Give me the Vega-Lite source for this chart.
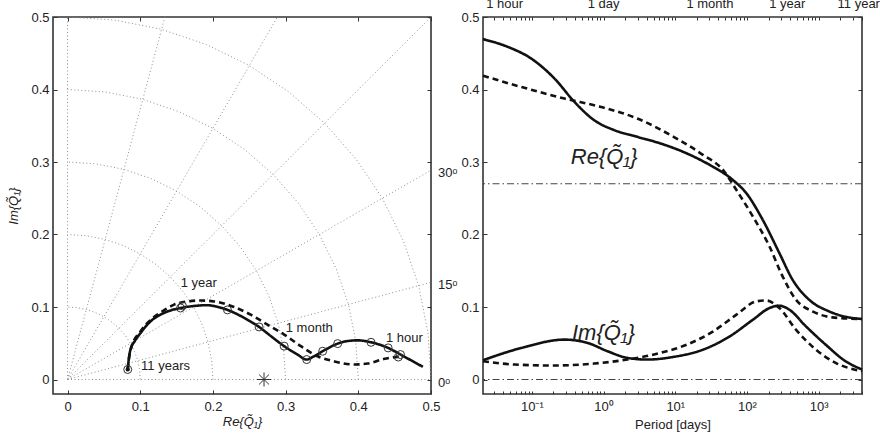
{
  "$schema": "https://vega.github.io/schema/vega-lite/v6.json",
  "background": "white",
  "padding": {"left": 7, "top": -4, "right": 0, "bottom": 0},
  "bounds": "flush",
  "spacing": 52,
  "config": {
    "font": "Liberation Sans",
    "view": {"stroke": "#333", "strokeWidth": 1.6},
    "axis": {"domain": false, "grid": false, "labelFont": "Liberation Sans", "labelFontSize": 13, "labelColor": "#222", "tickColor": "#333", "tickSize": -4, "tickWidth": 1, "labelPadding": 8, "titleFont": "Liberation Sans", "titleFontSize": 13, "titleFontWeight": "normal", "titleColor": "#222", "labelFlush": false, "labelOverlap": false},
    "text": {"font": "Liberation Sans", "color": "#222"}
  },
  "datasets": {
    "grid": [
      {"g":"c1","i":0,"x":0.1,"y":0},{"g":"c1","i":1,"x":0.09914,"y":0.01305},{"g":"c1","i":2,"x":0.09659,"y":0.02588},{"g":"c1","i":3,"x":0.09239,"y":0.03827},{"g":"c1","i":4,"x":0.0866,"y":0.05},{"g":"c1","i":5,"x":0.07934,"y":0.06088},{"g":"c1","i":6,"x":0.07071,"y":0.07071},{"g":"c1","i":7,"x":0.06088,"y":0.07934},{"g":"c1","i":8,"x":0.05,"y":0.0866},{"g":"c1","i":9,"x":0.03827,"y":0.09239},{"g":"c1","i":10,"x":0.02588,"y":0.09659},{"g":"c1","i":11,"x":0.01305,"y":0.09914},{"g":"c1","i":12,"x":0,"y":0.1},
      {"g":"c2","i":0,"x":0.2,"y":0},{"g":"c2","i":1,"x":0.19829,"y":0.02611},{"g":"c2","i":2,"x":0.19319,"y":0.05176},{"g":"c2","i":3,"x":0.18478,"y":0.07654},{"g":"c2","i":4,"x":0.17321,"y":0.1},{"g":"c2","i":5,"x":0.15867,"y":0.12175},{"g":"c2","i":6,"x":0.14142,"y":0.14142},{"g":"c2","i":7,"x":0.12175,"y":0.15867},{"g":"c2","i":8,"x":0.1,"y":0.17321},{"g":"c2","i":9,"x":0.07654,"y":0.18478},{"g":"c2","i":10,"x":0.05176,"y":0.19319},{"g":"c2","i":11,"x":0.02611,"y":0.19829},{"g":"c2","i":12,"x":0,"y":0.2},
      {"g":"c3","i":0,"x":0.3,"y":0},{"g":"c3","i":1,"x":0.29743,"y":0.03916},{"g":"c3","i":2,"x":0.28978,"y":0.07765},{"g":"c3","i":3,"x":0.27716,"y":0.1148},{"g":"c3","i":4,"x":0.25981,"y":0.15},{"g":"c3","i":5,"x":0.23801,"y":0.18263},{"g":"c3","i":6,"x":0.21213,"y":0.21213},{"g":"c3","i":7,"x":0.18263,"y":0.23801},{"g":"c3","i":8,"x":0.15,"y":0.25981},{"g":"c3","i":9,"x":0.1148,"y":0.27716},{"g":"c3","i":10,"x":0.07765,"y":0.28978},{"g":"c3","i":11,"x":0.03916,"y":0.29743},{"g":"c3","i":12,"x":0,"y":0.3},
      {"g":"c4","i":0,"x":0.4,"y":0},{"g":"c4","i":1,"x":0.39658,"y":0.05221},{"g":"c4","i":2,"x":0.38637,"y":0.10353},{"g":"c4","i":3,"x":0.36955,"y":0.15307},{"g":"c4","i":4,"x":0.34641,"y":0.2},{"g":"c4","i":5,"x":0.31734,"y":0.2435},{"g":"c4","i":6,"x":0.28284,"y":0.28284},{"g":"c4","i":7,"x":0.2435,"y":0.31734},{"g":"c4","i":8,"x":0.2,"y":0.34641},{"g":"c4","i":9,"x":0.15307,"y":0.36955},{"g":"c4","i":10,"x":0.10353,"y":0.38637},{"g":"c4","i":11,"x":0.05221,"y":0.39658},{"g":"c4","i":12,"x":0,"y":0.4},
      {"g":"c5","i":0,"x":0.5,"y":0},{"g":"c5","i":1,"x":0.49572,"y":0.06526},{"g":"c5","i":2,"x":0.48296,"y":0.12941},{"g":"c5","i":3,"x":0.46194,"y":0.19134},{"g":"c5","i":4,"x":0.43301,"y":0.25},{"g":"c5","i":5,"x":0.39668,"y":0.30438},{"g":"c5","i":6,"x":0.35355,"y":0.35355},{"g":"c5","i":7,"x":0.30438,"y":0.39668},{"g":"c5","i":8,"x":0.25,"y":0.43301},{"g":"c5","i":9,"x":0.19134,"y":0.46194},{"g":"c5","i":10,"x":0.12941,"y":0.48296},{"g":"c5","i":11,"x":0.06526,"y":0.49572},{"g":"c5","i":12,"x":0,"y":0.5},
      {"g":"r0","i":0,"x":0,"y":0},{"g":"r0","i":1,"x":0.75,"y":0},
      {"g":"r15","i":0,"x":0,"y":0},{"g":"r15","i":1,"x":0.72444,"y":0.19411},
      {"g":"r30","i":0,"x":0,"y":0},{"g":"r30","i":1,"x":0.64952,"y":0.375},
      {"g":"r45","i":0,"x":0,"y":0},{"g":"r45","i":1,"x":0.53033,"y":0.53033},
      {"g":"r60","i":0,"x":0,"y":0},{"g":"r60","i":1,"x":0.375,"y":0.64952},
      {"g":"r75","i":0,"x":0,"y":0},{"g":"r75","i":1,"x":0.19411,"y":0.72444},
      {"g":"r90","i":0,"x":0,"y":0},{"g":"r90","i":1,"x":0,"y":0.75}
    ],
    "lc": [
      {"s":"solid","i":0,"x":0.0828,"y":0.0138},{"s":"solid","i":1,"x":0.0845,"y":0.03},{"s":"solid","i":2,"x":0.0865,"y":0.041},{"s":"solid","i":3,"x":0.0925,"y":0.053},{"s":"solid","i":4,"x":0.1003,"y":0.064},{"s":"solid","i":5,"x":0.114,"y":0.08},{"s":"solid","i":6,"x":0.1324,"y":0.0917},{"s":"solid","i":7,"x":0.1555,"y":0.0986},{"s":"solid","i":8,"x":0.175,"y":0.1015},{"s":"solid","i":9,"x":0.192,"y":0.1025},{"s":"solid","i":10,"x":0.207,"y":0.1},{"s":"solid","i":11,"x":0.22,"y":0.096},{"s":"solid","i":12,"x":0.243,"y":0.085},{"s":"solid","i":13,"x":0.2635,"y":0.0725},{"s":"solid","i":14,"x":0.28,"y":0.0596},{"s":"solid","i":15,"x":0.298,"y":0.046},{"s":"solid","i":16,"x":0.3164,"y":0.0344},{"s":"solid","i":17,"x":0.329,"y":0.0275},{"s":"solid","i":18,"x":0.339,"y":0.032},{"s":"solid","i":19,"x":0.351,"y":0.039},{"s":"solid","i":20,"x":0.3716,"y":0.0495},{"s":"solid","i":21,"x":0.385,"y":0.053},{"s":"solid","i":22,"x":0.399,"y":0.054},{"s":"solid","i":23,"x":0.4175,"y":0.0513},{"s":"solid","i":24,"x":0.441,"y":0.0436},{"s":"solid","i":25,"x":0.458,"y":0.0344},{"s":"solid","i":26,"x":0.4888,"y":0.0175},
      {"s":"dashed","i":0,"x":0.0828,"y":0.0138},{"s":"dashed","i":1,"x":0.0848,"y":0.031},{"s":"dashed","i":2,"x":0.088,"y":0.045},{"s":"dashed","i":3,"x":0.1,"y":0.066},{"s":"dashed","i":4,"x":0.115,"y":0.083},{"s":"dashed","i":5,"x":0.132,"y":0.095},{"s":"dashed","i":6,"x":0.146,"y":0.103},{"s":"dashed","i":7,"x":0.1647,"y":0.1077},{"s":"dashed","i":8,"x":0.183,"y":0.109},{"s":"dashed","i":9,"x":0.2014,"y":0.1077},{"s":"dashed","i":10,"x":0.229,"y":0.1},{"s":"dashed","i":11,"x":0.252,"y":0.0894},{"s":"dashed","i":12,"x":0.275,"y":0.0757},{"s":"dashed","i":13,"x":0.298,"y":0.062},{"s":"dashed","i":14,"x":0.321,"y":0.046},{"s":"dashed","i":15,"x":0.344,"y":0.032},{"s":"dashed","i":16,"x":0.367,"y":0.025},{"s":"dashed","i":17,"x":0.3945,"y":0.0206},{"s":"dashed","i":18,"x":0.413,"y":0.022},{"s":"dashed","i":19,"x":0.436,"y":0.0285},{"s":"dashed","i":20,"x":0.459,"y":0.032}
    ],
    "mk": [
      {"x":0.0828,"y":0.0138},{"x":0.1555,"y":0.0986},{"x":0.158,"y":0.1015},{"x":0.22,"y":0.096},{"x":0.2635,"y":0.0725},{"x":0.298,"y":0.046},{"x":0.329,"y":0.0275},{"x":0.351,"y":0.039},{"x":0.3716,"y":0.0495},{"x":0.4175,"y":0.0513},{"x":0.441,"y":0.0436},{"x":0.458,"y":0.0344},{"x":0.455,"y":0.031}
    ],
    "ll": [
      {"t":"1 year","x":0.1806,"y":0.133},{"t":"1 month","x":0.3325,"y":0.071},{"t":"1 hour","x":0.4635,"y":0.057},{"t":"11 years","x":0.1348,"y":0.0183}
    ],
    "ang": [
      {"t":"0\u1d52","x":0.5,"y":0},{"t":"15\u1d52","x":0.5,"y":0.134},{"t":"30\u1d52","x":0.5,"y":0.2887}
    ],
    "rc": [
      {"k":"Re_s","s":"solid","p":0.020833,"v":0.4695},{"k":"Re_s","s":"solid","p":0.04699,"v":0.4585},{"k":"Re_s","s":"solid","p":0.09863,"v":0.4425},{"k":"Re_s","s":"solid","p":0.2075,"v":0.415},{"k":"Re_s","s":"solid","p":0.3917,"v":0.383},{"k":"Re_s","s":"solid","p":0.7413,"v":0.3576},{"k":"Re_s","s":"solid","p":1.403,"v":0.344},{"k":"Re_s","s":"solid","p":2.951,"v":0.3347},{"k":"Re_s","s":"solid","p":6.209,"v":0.3256},{"k":"Re_s","s":"solid","p":14.52,"v":0.3118},{"k":"Re_s","s":"solid","p":30.48,"v":0.2957},{"k":"Re_s","s":"solid","p":63.97,"v":0.275},{"k":"Re_s","s":"solid","p":98.18,"v":0.2568},{"k":"Re_s","s":"solid","p":166.3,"v":0.22},{"k":"Re_s","s":"solid","p":283.1,"v":0.1743},{"k":"Re_s","s":"solid","p":432.5,"v":0.1376},{"k":"Re_s","s":"solid","p":736.2,"v":0.11},{"k":"Re_s","s":"solid","p":1393,"v":0.094},{"k":"Re_s","s":"solid","p":2924,"v":0.0849},{"k":"Re_s","s":"solid","p":4017.75,"v":0.0835},
      {"k":"Re_d","s":"dashed","p":0.020833,"v":0.419},{"k":"Re_d","s":"dashed","p":0.07178,"v":0.4034},{"k":"Re_d","s":"dashed","p":0.2851,"v":0.3875},{"k":"Re_d","s":"dashed","p":0.9183,"v":0.376},{"k":"Re_d","s":"dashed","p":2.951,"v":0.36},{"k":"Re_d","s":"dashed","p":9.484,"v":0.3347},{"k":"Re_d","s":"dashed","p":24.6,"v":0.3095},{"k":"Re_d","s":"dashed","p":46.56,"v":0.2889},{"k":"Re_d","s":"dashed","p":71.29,"v":0.2613},{"k":"Re_d","s":"dashed","p":121.1,"v":0.2246},{"k":"Re_d","s":"dashed","p":206.1,"v":0.1834},{"k":"Re_d","s":"dashed","p":314.8,"v":0.142},{"k":"Re_d","s":"dashed","p":481.9,"v":0.11},{"k":"Re_d","s":"dashed","p":818.5,"v":0.094},{"k":"Re_d","s":"dashed","p":1549,"v":0.0857},{"k":"Re_d","s":"dashed","p":4017.75,"v":0.0835},
      {"k":"Im_s","s":"solid","p":0.020833,"v":0.0266},{"k":"Im_s","s":"solid","p":0.07178,"v":0.0436},{"k":"Im_s","s":"solid","p":0.2851,"v":0.055},{"k":"Im_s","s":"solid","p":0.6012,"v":0.0504},{"k":"Im_s","s":"solid","p":1.135,"v":0.039},{"k":"Im_s","s":"solid","p":2.148,"v":0.0298},{"k":"Im_s","s":"solid","p":4.064,"v":0.0275},{"k":"Im_s","s":"solid","p":9.484,"v":0.0312},{"k":"Im_s","s":"solid","p":24.6,"v":0.0413},{"k":"Im_s","s":"solid","p":57.68,"v":0.0596},{"k":"Im_s","s":"solid","p":121.1,"v":0.0825},{"k":"Im_s","s":"solid","p":206.1,"v":0.0986},{"k":"Im_s","s":"solid","p":283.1,"v":0.1018},{"k":"Im_s","s":"solid","p":389,"v":0.0963},{"k":"Im_s","s":"solid","p":663.7,"v":0.0733},{"k":"Im_s","s":"solid","p":1253,"v":0.048},{"k":"Im_s","s":"solid","p":2371,"v":0.0252},{"k":"Im_s","s":"solid","p":4017.75,"v":0.0138},
      {"k":"Im_d","s":"dashed","p":0.020833,"v":0.0252},{"k":"Im_d","s":"dashed","p":0.05794,"v":0.0206},{"k":"Im_d","s":"dashed","p":0.2075,"v":0.0193},{"k":"Im_d","s":"dashed","p":0.7413,"v":0.022},{"k":"Im_d","s":"dashed","p":2.148,"v":0.0275},{"k":"Im_d","s":"dashed","p":6.209,"v":0.0367},{"k":"Im_d","s":"dashed","p":14.52,"v":0.0481},{"k":"Im_d","s":"dashed","p":33.88,"v":0.0665},{"k":"Im_d","s":"dashed","p":71.29,"v":0.0894},{"k":"Im_d","s":"dashed","p":134.6,"v":0.1077},{"k":"Im_d","s":"dashed","p":184.9,"v":0.109},{"k":"Im_d","s":"dashed","p":283.1,"v":0.0986},{"k":"Im_d","s":"dashed","p":481.9,"v":0.0688},{"k":"Im_d","s":"dashed","p":912,"v":0.0413},{"k":"Im_d","s":"dashed","p":1722,"v":0.023},{"k":"Im_d","s":"dashed","p":4017.75,"v":0.0114}
    ],
    "rr": [{"y":0.27},{"y":0}],
    "top": [{"t":"1 hour","p":0.041667,"v":0.5},{"t":"1 day","p":1,"v":0.5},{"t":"1 month","p":30.44,"v":0.5},{"t":"1 year","p":365.25,"v":0.5},{"t":"11 years","p":4017.75,"v":0.5}],
    "big": [{"t":"Re{Q\u0303\u2081}","p":1.02,"v":0.307},{"t":"Im{Q\u0303\u2081}","p":1.0,"v":0.064}]
  },
  "hconcat": [
    {
      "width": 378,
      "height": 377,
      "resolve": {"axis": {"x": "independent", "y": "independent"}},
      "layer": [
        {
          "data": {"name": "grid"},
          "mark": {"type": "line", "clip": true, "strokeDash": [1, 2.5], "color": "#8f8f8f", "strokeWidth": 1},
          "encoding": {
            "x": {"field": "x", "type": "quantitative", "scale": {"domain": [-0.02, 0.5], "nice": false, "zero": false}, "axis": {"values": [0, 0.1, 0.2, 0.3, 0.4, 0.5], "format": ".1~f", "labelPadding": 10, "title": "Re{Q\u0303\u2081}", "titleFontStyle": "italic", "titlePadding": 2}},
            "y": {"field": "y", "type": "quantitative", "scale": {"domain": [-0.02, 0.5], "nice": false, "zero": false}, "axis": {"values": [0, 0.1, 0.2, 0.3, 0.4, 0.5], "format": ".1~f", "title": "Im{Q\u0303\u2081}", "titleFontStyle": "italic", "titlePadding": 10}},
            "detail": {"field": "g"},
            "order": {"field": "i", "type": "quantitative"}
          }
        },
        {
          "data": {"name": "lc"},
          "mark": {"type": "line", "strokeWidth": 2.6, "color": "#111", "interpolate": "monotone"},
          "encoding": {
            "x": {"field": "x", "type": "quantitative", "scale": {"domain": [-0.02, 0.5], "nice": false, "zero": false}, "axis": null},
            "y": {"field": "y", "type": "quantitative", "scale": {"domain": [-0.02, 0.5], "nice": false, "zero": false}, "axis": null},
            "detail": {"field": "s"},
            "order": {"field": "i", "type": "quantitative"},
            "strokeDash": {"field": "s", "type": "nominal", "scale": {"domain": ["solid", "dashed"], "range": [[1, 0], [6, 4]]}, "legend": null}
          }
        },
        {
          "data": {"name": "mk"},
          "mark": {"type": "point", "shape": "circle", "filled": false, "size": 64, "stroke": "#333", "strokeWidth": 1, "opacity": 1},
          "encoding": {
            "x": {"field": "x", "type": "quantitative", "scale": {"domain": [-0.02, 0.5], "nice": false, "zero": false}, "axis": {"orient": "top", "values": [0, 0.1, 0.2, 0.3, 0.4, 0.5], "labels": false, "title": null}},
            "y": {"field": "y", "type": "quantitative", "scale": {"domain": [-0.02, 0.5], "nice": false, "zero": false}, "axis": {"orient": "right", "values": [0, 0.1, 0.2, 0.3, 0.4, 0.5], "labels": false, "title": null}}
          }
        },
        {
          "data": {"values": [{"x": 0.0828, "y": 0.0138}]},
          "mark": {"type": "point", "shape": "circle", "filled": true, "size": 18, "color": "#111", "opacity": 1},
          "encoding": {
            "x": {"field": "x", "type": "quantitative", "scale": {"domain": [-0.02, 0.5], "nice": false, "zero": false}, "axis": null},
            "y": {"field": "y", "type": "quantitative", "scale": {"domain": [-0.02, 0.5], "nice": false, "zero": false}, "axis": null}
          }
        },
        {
          "data": {"values": [{"x": 0.2703, "y": 0}]},
          "mark": {"type": "point", "shape": "M-1,0H1M0,-1V1M-0.7,-0.7L0.7,0.7M-0.7,0.7L0.7,-0.7", "filled": false, "size": 200, "stroke": "#333", "strokeWidth": 1, "opacity": 1},
          "encoding": {
            "x": {"field": "x", "type": "quantitative", "scale": {"domain": [-0.02, 0.5], "nice": false, "zero": false}, "axis": null},
            "y": {"field": "y", "type": "quantitative", "scale": {"domain": [-0.02, 0.5], "nice": false, "zero": false}, "axis": null}
          }
        },
        {
          "data": {"name": "ll"},
          "mark": {"type": "text", "fontSize": 13, "align": "center", "baseline": "middle", "color": "#222"},
          "encoding": {
            "x": {"field": "x", "type": "quantitative", "scale": {"domain": [-0.02, 0.5], "nice": false, "zero": false}, "axis": null},
            "y": {"field": "y", "type": "quantitative", "scale": {"domain": [-0.02, 0.5], "nice": false, "zero": false}, "axis": null},
            "text": {"field": "t"}
          }
        },
        {
          "data": {"name": "ang"},
          "mark": {"type": "text", "fontSize": 13, "align": "left", "baseline": "middle", "dx": 7, "dy": 3, "color": "#222"},
          "encoding": {
            "x": {"field": "x", "type": "quantitative", "scale": {"domain": [-0.02, 0.5], "nice": false, "zero": false}, "axis": null},
            "y": {"field": "y", "type": "quantitative", "scale": {"domain": [-0.02, 0.5], "nice": false, "zero": false}, "axis": null},
            "text": {"field": "t"}
          }
        }
      ]
    },
    {
      "width": 379,
      "height": 377,
      "resolve": {"axis": {"x": "independent", "y": "independent"}},
      "layer": [
        {
          "data": {"name": "rc"},
          "mark": {"type": "line", "strokeWidth": 2.6, "color": "#111", "interpolate": "monotone"},
          "encoding": {
            "x": {"field": "p", "type": "quantitative", "scale": {"type": "log", "domain": [0.020833, 4017.75], "nice": false}, "axis": {"values": [0.03,0.04,0.05,0.06,0.07,0.08,0.09,0.1,0.2,0.3,0.4,0.5,0.6,0.7,0.8,0.9,1,2,3,4,5,6,7,8,9,10,20,30,40,50,60,70,80,90,100,200,300,400,500,600,700,800,900,1000,2000,3000,4000], "labelExpr": "datum.value == 0.1 ? '10\u207b\u00b9' : datum.value == 1 ? '10\u2070' : datum.value == 10 ? '10\u00b9' : datum.value == 100 ? '10\u00b2' : datum.value == 1000 ? '10\u00b3' : ''", "tickSize": -3, "labelPadding": 9, "title": "Period [days]", "titlePadding": 5}},
            "y": {"field": "v", "type": "quantitative", "scale": {"domain": [-0.02, 0.5], "nice": false, "zero": false}, "axis": {"values": [0, 0.1, 0.2, 0.3, 0.4, 0.5], "format": ".1~f", "title": null}},
            "detail": {"field": "k"},
            "strokeDash": {"field": "s", "type": "nominal", "scale": {"domain": ["solid", "dashed"], "range": [[1, 0], [6, 4]]}, "legend": null}
          }
        },
        {
          "data": {"name": "rr"},
          "mark": {"type": "rule", "strokeDash": [7, 3, 1.5, 3], "color": "#444", "strokeWidth": 1},
          "encoding": {
            "y": {"field": "y", "type": "quantitative", "scale": {"domain": [-0.02, 0.5], "nice": false, "zero": false}, "axis": {"orient": "right", "values": [0, 0.1, 0.2, 0.3, 0.4, 0.5], "labels": false, "title": null}}
          }
        },
        {
          "data": {"name": "top"},
          "mark": {"type": "text", "fontSize": 13, "align": "center", "baseline": "alphabetic", "dy": -9.5, "color": "#222"},
          "encoding": {
            "x": {"field": "p", "type": "quantitative", "scale": {"type": "log", "domain": [0.020833, 4017.75], "nice": false}, "axis": {"orient": "top", "values": [0.03,0.04,0.05,0.06,0.07,0.08,0.09,0.1,0.2,0.3,0.4,0.5,0.6,0.7,0.8,0.9,1,2,3,4,5,6,7,8,9,10,20,30,40,50,60,70,80,90,100,200,300,400,500,600,700,800,900,1000,2000,3000,4000], "labels": false, "tickSize": -3, "title": null}},
            "y": {"field": "v", "type": "quantitative", "scale": {"domain": [-0.02, 0.5], "nice": false, "zero": false}, "axis": null},
            "text": {"field": "t"}
          }
        },
        {
          "data": {"name": "big"},
          "mark": {"type": "text", "fontSize": 22, "fontStyle": "italic", "align": "center", "baseline": "middle", "color": "#222"},
          "encoding": {
            "x": {"field": "p", "type": "quantitative", "scale": {"type": "log", "domain": [0.020833, 4017.75], "nice": false}, "axis": null},
            "y": {"field": "v", "type": "quantitative", "scale": {"domain": [-0.02, 0.5], "nice": false, "zero": false}, "axis": null},
            "text": {"field": "t"}
          }
        }
      ]
    }
  ]
}
